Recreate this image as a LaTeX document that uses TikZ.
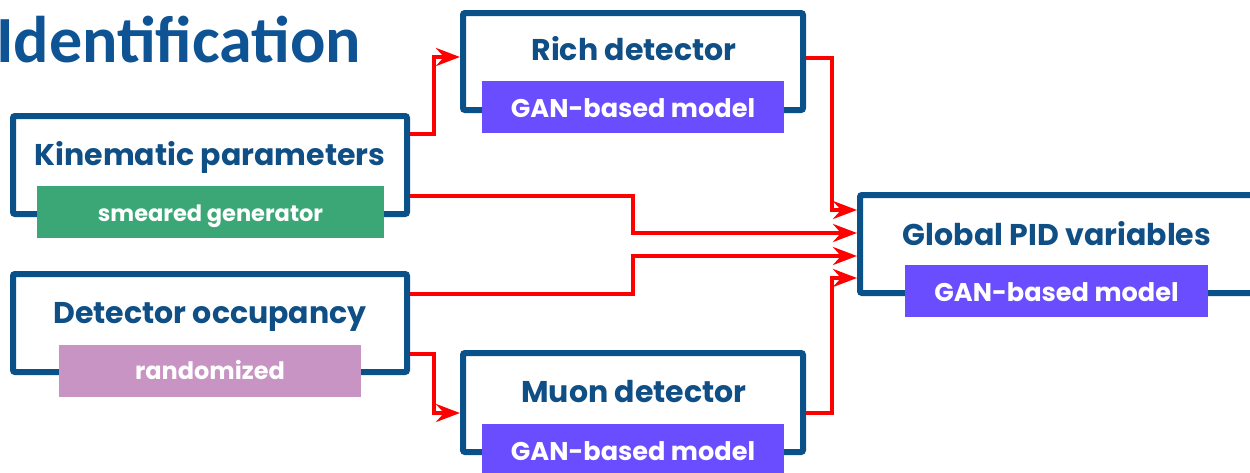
\documentclass[tikz,border=0pt]{standalone}
\usepackage{fontspec}
\newfontfamily\gothic{Poppins}
\newfontfamily\calib{Carlito}
\usetikzlibrary{arrows.meta,backgrounds}
\definecolor{boxblue}{HTML}{0B5189}
\definecolor{txtblue}{HTML}{0F4F85}
\definecolor{gangreen}{HTML}{3BA776}
\definecolor{ganpink}{HTML}{C894C4}
\definecolor{ganpurple}{HTML}{6A4DFF}
\definecolor{titleblue}{HTML}{0E5494}
\begin{document}
\begin{tikzpicture}[x=1pt,y=-1pt,
  block/.style={draw=boxblue, line width=6pt, rounded corners=2pt, inner sep=0pt},
  subbox/.style={fill=#1, inner sep=0pt, minimum height=52pt, text=white,
    text height=20pt, text depth=0pt, font=\gothic\bfseries\fontsize{25.6}{25.6}\selectfont},
  smallsub/.style={subbox=#1, text height=18pt, font=\gothic\bfseries\fontsize{22.5}{22.5}\selectfont},
  lbl/.style={text=txtblue, font=\gothic\bfseries\fontsize{30}{30}\selectfont, inner sep=0pt, anchor=base},
  flow/.style={draw=red, line width=4pt, -{Stealth[length=24pt,width=18pt,inset=8pt]}},
]
\path[use as bounding box] (0,0) rectangle (1250,472);
\clip (0,0) rectangle (1250,472);

% title
\node[anchor=base west, inner sep=0pt, text=titleblue, font=\calib\bfseries\fontsize{66}{66}\selectfont] (title) at (-4,62) {Identification};

% blocks
\node[block, minimum width=394pt, minimum height=98pt] (kin) at (210,165) {};
\node[block, minimum width=394pt, minimum height=98pt] (occ) at (210,323) {};
\node[block, minimum width=340pt, minimum height=97pt] (rich) at (633,61.5) {};
\node[block, minimum width=340pt, minimum height=99pt] (muon) at (633,402.5) {};
\node[block, minimum width=400pt, minimum height=98pt] (glob) at (1060,244) {};

% connectors
\coordinate (k1) at (kin.east |- 0,134);
\coordinate (k2) at (kin.east |- 0,196);
\coordinate (o1) at (occ.east |- 0,294);
\coordinate (o2) at (occ.east |- 0,354);
\coordinate (r1) at (rich.east |- 0,58);
\coordinate (m1) at (muon.east |- 0,413);
\coordinate (gr) at (glob.west |- 0,210);
\coordinate (gk) at (glob.west |- 0,233);
\coordinate (go) at (glob.west |- 0,256);
\coordinate (gm) at (glob.west |- 0,278);
\coordinate (ri) at (rich.west |- 0,57);
\coordinate (mi) at (muon.west |- 0,413);
\begin{scope}[on background layer]
\draw[flow] (k1) -- (434,134) |- (ri);
\draw[flow] (k2) -- (633,196) |- (gk);
\draw[flow] (o1) -- (633,294) |- (go);
\draw[flow] (o2) -- (434,354) |- (mi);
\draw[flow] (r1) -- (832,58) |- (gr);
\draw[flow] (m1) -- (832,413) |- (gm);
\end{scope}

% sub boxes
\node[smallsub=gangreen, minimum width=347pt] (kinsub) at (210.5,212) {smeared generator};
\node[smallsub=ganpink, minimum width=302pt, font=\gothic\bfseries\fontsize{24}{24}\selectfont] (occsub) at (210,370.5) {randomized};
\node[subbox=ganpurple, minimum width=302pt] (richsub) at (633,107) {GAN-based model};
\node[subbox=ganpurple, minimum width=302pt] (muonsub) at (633,450) {GAN-based model};
\node[subbox=ganpurple, minimum width=303pt] (globsub) at (1056.5,291) {GAN-based model};

% labels
\node[lbl] (kinl) at (210,165) {Kinematic parameters};
\node[lbl] (occl) at (210,323) {Detector occupancy};
\node[lbl] (richl) at (634,60) {Rich detector};
\node[lbl] (muonl) at (634,402) {Muon detector};
\node[lbl] (globl) at (1057,245) {Global PID variables};
\end{tikzpicture}
\end{document}
